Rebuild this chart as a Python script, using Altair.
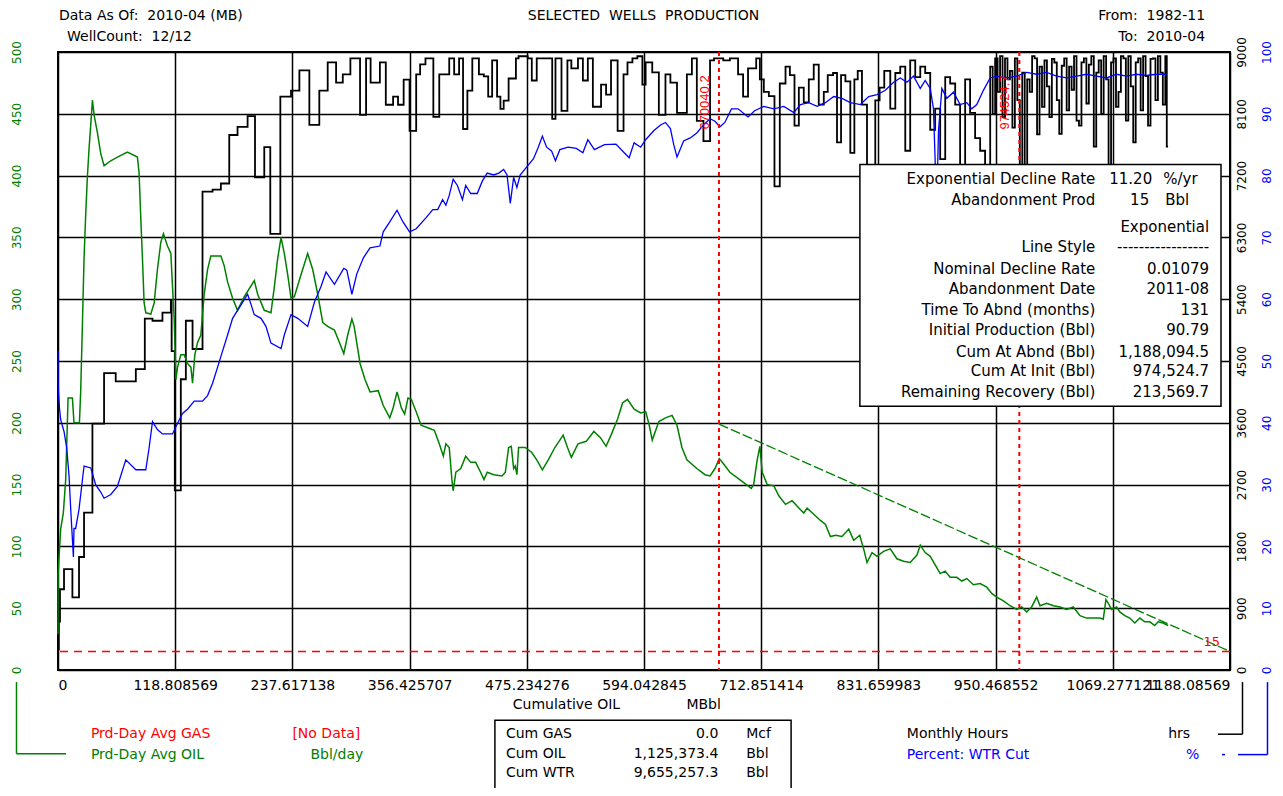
import altair as alt
import pandas as pd

FONT = "DejaVu Sans"
GREEN = "#008000"
BLUE = "#0000ff"
RED = "#ff0000"

# ---------------- data ----------------
X_MAX = 1188.08569
X_TICKS = [0, 118.808569, 237.617138, 356.425707, 475.234276, 594.042845,
           712.851414, 831.659983, 950.468552, 1069.277121, 1188.08569]
OIL_TICKS = [0, 50, 100, 150, 200, 250, 300, 350, 400, 450, 500]
HRS_TICKS = [0, 900, 1800, 2700, 3600, 4500, 5400, 6300, 7200, 8100, 9000]
PCT_TICKS = [0, 10, 20, 30, 40, 50, 60, 70, 80, 90, 100]

# (cumulative oil MBbl, Prd-Day Avg OIL bbl/day)
OIL = [
    (0.0, 29), (0.1, 78), (2.7, 114), (5.4, 127), (7.8, 154), (9.5, 200), (10.2, 220), (14.6, 220),
    (16.2, 200), (21.7, 200), (23.0, 225), (24.7, 278), (26.4, 333), (28.1, 369), (29.8, 399),
    (31.5, 422), (33.2, 441), (34.9, 461), (36.6, 449), (39.9, 435), (43.3, 418), (46.7, 408),
    (53.5, 412), (60.2, 415), (70.4, 419), (80.5, 415), (82.2, 402), (83.9, 366), (85.6, 333),
    (87.3, 297), (89.0, 289), (94.1, 288), (97.5, 297), (100.8, 324), (104.2, 346), (106.9, 353),
    (111.0, 343), (114.4, 337), (116.1, 310), (117.8, 284), (119.5, 235), (121.2, 245), (124.5, 255),
    (127.9, 255), (131.3, 248), (134.7, 245), (136.4, 232), (138.7, 255), (141.5, 265), (144.8, 271),
    (148.2, 304), (151.6, 324), (154.9, 335), (165.1, 335), (168.5, 327), (171.9, 314), (176.9, 301),
    (182.0, 291), (188.8, 302), (199.0, 315), (202.4, 304), (209.1, 291), (215.9, 289), (219.3, 310),
    (222.7, 333), (226.1, 350), (229.4, 337), (232.8, 320), (236.2, 301), (239.6, 302), (246.4, 320),
    (253.1, 337), (258.2, 324), (263.3, 304), (268.4, 281), (273.4, 278), (280.2, 275), (285.3, 265),
    (289.7, 256), (293.7, 271), (297.9, 284), (300.2, 278), (306.2, 248), (311.2, 235), (316.3, 225),
    (324.6, 226), (329.7, 214), (336.3, 204), (339.7, 212), (343.7, 225), (348.1, 212), (351.4, 207),
    (354.8, 220), (358.1, 219), (363.1, 209), (368.1, 198), (374.8, 196), (381.5, 194), (386.5, 183),
    (390.6, 173), (393.2, 183), (396.6, 180), (399.3, 154), (400.6, 145), (403.3, 160), (408.3, 163),
    (413.3, 173), (418.4, 168), (423.4, 168), (428.4, 160), (431.8, 154), (435.1, 160), (441.8, 158),
    (450.1, 157), (453.5, 160), (456.8, 180), (459.5, 181), (461.9, 163), (463.5, 165), (465.2, 158),
    (466.9, 180), (473.6, 180), (480.3, 176), (485.3, 170), (491.0, 162), (497.0, 170), (503.7, 180),
    (512.1, 190), (516.5, 180), (520.4, 172), (527.1, 183), (535.5, 185), (543.2, 193), (549.9, 188),
    (555.6, 181), (560.6, 190), (567.3, 203), (572.3, 216), (577.3, 219), (584.0, 211), (590.7, 208),
    (595.7, 209), (599.1, 199), (602.4, 186), (609.1, 201), (615.8, 204), (622.5, 206), (627.5, 198),
    (632.5, 180), (637.5, 170), (647.6, 163), (655.9, 158), (661.0, 157), (666.0, 163), (670.3, 171),
    (674.4, 167), (681.1, 160), (691.1, 154), (702.8, 147), (705.2, 150), (708.8, 170), (711.5, 181),
    (713.9, 160), (718.9, 150), (725.7, 149), (730.7, 141), (737.5, 134), (744.2, 137), (751.0, 131),
    (756.0, 127), (759.4, 131), (766.1, 126), (772.9, 121), (777.9, 118), (783.0, 108), (788.1, 109),
    (794.8, 108), (801.6, 114), (806.6, 105), (812.7, 109), (816.7, 98), (820.1, 87), (825.2, 95),
    (830.2, 92), (836.9, 96), (843.7, 98), (850.4, 90), (857.2, 88), (863.9, 87), (870.7, 93),
    (874.1, 101), (879.1, 95), (884.2, 92), (889.2, 85), (894.3, 78), (899.3, 80), (904.4, 75),
    (911.1, 75), (916.2, 72), (921.3, 74), (928.0, 69), (934.8, 70), (941.5, 67), (946.6, 62),
    (951.6, 59), (958.4, 56), (965.1, 52), (971.9, 49), (976.9, 51), (982.0, 47), (987.0, 51),
    (992.1, 59), (995.5, 52), (1002.2, 54), (1009.0, 52), (1015.7, 51), (1022.5, 49), (1029.2, 51),
    (1036.0, 44), (1042.7, 42), (1049.5, 42), (1056.2, 42), (1059.6, 41), (1062.3, 57), (1064.7, 54),
    (1068.0, 49), (1073.1, 51), (1076.4, 47), (1081.5, 44), (1086.5, 42), (1091.6, 38), (1096.7, 42),
    (1101.7, 39), (1106.8, 39), (1111.8, 36), (1115.2, 39), (1120.3, 38), (1125.3, 36),
]

# (cumulative oil MBbl, Percent WTR Cut %)
WTR_CUT = [
    (0.0, 51.6), (0.0, 47.5), (0.5, 45.0), (1.5, 42.4), (2.7, 40.5), (6.1, 38.6), (8.8, 36.0),
    (11.2, 31.4), (12.9, 26.0), (15.6, 18.3), (16.2, 22.9), (17.9, 22.9), (21.3, 26.0), (24.7, 30.7),
    (26.4, 33.0), (33.2, 32.7), (38.2, 30.0), (43.3, 28.8), (46.7, 27.8), (53.5, 28.4), (60.2, 29.7),
    (68.7, 34.0), (78.9, 32.4), (89.0, 32.4), (92.4, 36.0), (95.8, 40.2), (100.8, 38.9), (105.9, 38.2),
    (116.1, 38.2), (121.1, 39.9), (126.2, 41.5), (131.3, 42.2), (138.1, 43.5), (146.5, 43.5),
    (151.6, 44.4), (156.7, 46.4), (161.8, 49.0), (166.8, 51.6), (171.9, 54.2), (177.0, 56.9),
    (182.0, 58.2), (187.1, 59.5), (192.2, 60.8), (195.6, 59.2), (198.9, 57.5), (205.8, 56.9),
    (210.8, 55.6), (215.9, 52.9), (226.1, 52.0), (229.4, 54.2), (236.2, 57.5), (243.0, 56.9),
    (253.1, 55.6), (259.9, 59.5), (266.7, 62.1), (271.7, 64.4), (280.2, 62.4), (289.7, 65.0),
    (292.8, 64.7), (297.9, 60.8), (302.9, 64.1), (309.6, 66.7), (316.3, 68.3), (326.3, 68.6),
    (329.7, 70.9), (336.3, 72.5), (343.7, 74.4), (349.7, 72.5), (356.4, 70.9), (363.1, 71.4),
    (373.2, 73.2), (379.9, 74.5), (384.9, 74.5), (389.9, 76.1), (393.2, 75.2), (396.6, 76.8),
    (400.6, 79.4), (404.9, 78.4), (410.0, 76.1), (413.3, 78.4), (418.4, 77.1), (425.0, 77.1),
    (430.1, 79.1), (435.1, 80.4), (441.8, 80.1), (446.8, 80.4), (451.8, 81.0), (455.2, 80.1),
    (458.5, 75.5), (461.9, 79.7), (465.2, 78.1), (468.5, 80.1), (475.2, 81.4), (481.9, 82.7),
    (486.9, 84.6), (491.0, 86.4), (495.3, 84.6), (500.3, 84.0), (504.3, 82.4), (508.7, 84.2),
    (517.1, 84.6), (525.4, 84.4), (532.1, 83.7), (537.1, 85.8), (543.8, 84.2), (553.9, 85.0),
    (565.6, 85.1), (574.0, 83.7), (579.0, 82.9), (584.0, 85.3), (590.7, 84.6), (595.7, 85.8),
    (604.1, 87.3), (610.8, 88.2), (615.8, 88.6), (620.8, 87.6), (624.2, 85.0), (627.5, 83.0),
    (634.2, 85.6), (640.9, 86.1), (647.6, 86.9), (654.3, 88.2), (661.0, 89.2), (666.0, 88.8),
    (671.0, 87.9), (676.0, 88.6), (682.7, 90.8), (689.4, 90.8), (699.5, 89.5), (706.2, 90.5),
    (715.5, 91.2), (725.7, 90.8), (735.8, 91.2), (745.9, 90.2), (752.6, 91.5), (761.1, 91.8),
    (769.5, 91.2), (777.9, 91.8), (786.4, 92.8), (794.8, 92.5), (803.2, 91.8), (813.4, 91.5),
    (821.8, 92.8), (830.2, 93.1), (838.7, 93.8), (847.1, 95.1), (853.8, 95.8), (860.6, 95.1),
    (867.3, 96.1), (874.1, 94.1), (879.1, 95.4), (884.2, 94.1), (887.5, 90.8), (889.2, 82.4),
    (890.5, 72.0), (891.5, 80.0), (892.6, 87.3), (896.0, 94.1), (901.0, 92.5), (907.8, 93.5),
    (914.5, 91.5), (921.3, 91.8), (926.3, 90.8), (931.4, 91.5), (938.1, 93.8), (944.9, 95.8),
    (951.6, 96.1), (961.7, 95.8), (971.9, 96.1), (982.0, 96.7), (992.1, 96.4), (1002.2, 96.7),
    (1012.3, 96.1), (1022.5, 95.8), (1032.6, 96.1), (1042.7, 96.4), (1052.8, 96.1), (1062.9, 95.8),
    (1073.1, 96.4), (1083.2, 96.1), (1093.3, 96.4), (1103.4, 96.2), (1113.5, 96.4), (1123.6, 96.4),
]

# (cumulative oil MBbl, Monthly Hours) -- step series
HOURS = [
    (0.0, 300), (0.8, 706), (2.0, 1176), (6.1, 1470), (14.6, 1058), (21.3, 1646), (26.4, 2293),
    (34.9, 3587), (46.7, 4322), (58.5, 4204), (78.9, 4381), (88.0, 5116), (95.8, 5086), (105.9, 5204),
    (114.4, 5380), (115.2, 4645), (118.4, 2617), (124.5, 4234), (129.6, 5086), (136.4, 4675),
    (146.5, 6968), (156.7, 6997), (165.1, 7085), (173.6, 7791), (182.0, 7909), (192.2, 8067),
    (199.7, 7174), (209.1, 7615), (215.2, 6350), (225.4, 8350), (236.2, 8438), (244.7, 8732),
    (254.8, 7938), (264.9, 8438), (273.4, 8850), (281.9, 8555), (288.7, 8673), (296.4, 8908),
    (306.2, 8085), (312.3, 8908), (316.9, 8555), (326.3, 8849), (332.3, 8232), (339.7, 8350),
    (344.7, 8232), (350.4, 8597), (356.4, 7850), (363.1, 8673), (367.1, 8820), (372.5, 8908),
    (380.5, 8056), (386.5, 8673), (396.6, 8908), (401.6, 8673), (406.6, 8908), (410.6, 7879),
    (415.0, 8438), (420.0, 8908), (426.7, 8673), (431.7, 8644), (436.1, 8350), (440.1, 8879),
    (445.1, 8350), (448.5, 8173), (451.8, 8291), (456.8, 8614), (464.2, 8908), (466.9, 8938),
    (476.2, 8908), (480.3, 8585), (485.3, 8908), (501.0, 8026), (504.3, 8908), (510.4, 8144),
    (516.4, 8879), (520.4, 8761), (527.1, 8908), (532.1, 8585), (537.1, 8908), (542.2, 8203),
    (550.5, 8526), (555.6, 8379), (560.6, 8879), (567.3, 7850), (573.3, 8673), (577.3, 8849),
    (582.3, 8908), (587.3, 8938), (592.4, 8526), (595.7, 8849), (602.4, 8702), (609.1, 8085),
    (615.8, 8673), (620.8, 8555), (627.5, 8114), (637.5, 8673), (642.6, 8908), (647.6, 7997),
    (654.3, 7703), (661.0, 8879), (665.0, 8908), (674.4, 8879), (681.1, 8908), (689.4, 8673),
    (694.5, 8350), (699.5, 8761), (707.8, 8908), (711.5, 8602), (715.5, 8419), (720.6, 8357),
    (726.3, 7042), (731.7, 8541), (737.5, 8786), (741.9, 8663), (746.6, 7929), (751.0, 8480),
    (756.0, 8266), (761.1, 8602), (766.1, 8816), (771.2, 8235), (776.3, 8419), (780.3, 8663),
    (785.7, 8694), (789.7, 7684), (793.8, 8663), (798.2, 8572), (803.2, 7531), (807.3, 8602),
    (810.7, 8725), (815.0, 8235), (820.1, 7317), (824.1, 7133), (828.5, 8296), (832.9, 8480),
    (837.6, 8725), (843.7, 8174), (848.8, 8694), (853.8, 8786), (858.9, 7562), (863.9, 8878),
    (869.0, 8633), (874.1, 8786), (879.1, 8694), (884.2, 7868), (889.2, 8174), (894.3, 7439),
    (899.4, 8633), (904.4, 8541), (909.5, 8235), (914.5, 7317), (919.6, 8602), (924.6, 8113),
    (929.7, 7745), (934.8, 7562), (939.8, 7133), (945.0, 8786), (947.5, 8100), (950.0, 8908),
    (952.5, 8420), (955.0, 8939), (957.5, 8050), (960.0, 8908), (962.5, 8600), (965.0, 8725),
    (967.5, 7900), (970.0, 8908), (972.5, 8300), (975.0, 7317), (977.5, 8700), (980.0, 7133),
    (982.5, 8600), (985.0, 8419), (987.5, 8939), (990.0, 8908), (992.5, 7800), (995.0, 8786),
    (997.5, 8200), (1000.0, 8878), (1002.5, 8500), (1005.0, 8051), (1007.5, 8900), (1010.0, 8847),
    (1012.5, 8300), (1015.0, 7807), (1017.5, 8800), (1020.0, 8908), (1022.5, 8150), (1025.0, 8786),
    (1027.5, 8450), (1030.0, 8939), (1032.5, 8000), (1035.0, 7929), (1037.5, 8850), (1040.0, 8908),
    (1042.5, 8250), (1045.0, 8816), (1047.5, 8939), (1050.0, 7623), (1052.5, 8700), (1055.0, 8878),
    (1057.5, 8100), (1060.0, 8939), (1062.5, 8600), (1065.0, 7317), (1067.5, 8850), (1070.0, 8908),
    (1072.5, 8200), (1075.0, 8419), (1077.5, 8939), (1080.0, 8908), (1082.5, 8000), (1085.0, 8939),
    (1087.5, 8500), (1090.0, 7684), (1092.5, 8850), (1095.0, 8908), (1097.5, 8150), (1100.0, 8939),
    (1102.5, 8650), (1105.0, 7929), (1107.5, 8900), (1110.0, 8908), (1112.5, 8300), (1115.0, 8939),
    (1117.5, 8700), (1120.0, 8235), (1122.5, 8939), (1124.0, 7623), (1125.3, 7623),
]

FORECAST = [(670.04, 199.0), (1188.08569, 15.0)]
ABANDON_RATE = [15]
MARKER_CUM = [670.0402, 974.5247]
MARKER_LABEL = ["670040.2", "974524.7"]

INFO_LABELS = ["Exponential Decline Rate", "Abandonment Prod", "", "Line Style",
               "Nominal Decline Rate", "Abandonment Date", "Time To Abnd (months)",
               "Initial Production (Bbl)", "Cum At Abnd (Bbl)", "Cum At Init (Bbl)",
               "Remaining Recovery (Bbl)"]
INFO_VALUES = ["", "", "Exponential", "-----------------", "0.01079", "2011-08", "131",
               "90.79", "1,188,094.5", "974,524.7", "213,569.7"]
CUM_NAMES = ["Cum GAS", "Cum OIL", "Cum WTR"]
CUM_VALUES = ["0.0", "1,125,373.4", "9,655,257.3"]
CUM_UNITS = ["Mcf", "Bbl", "Bbl"]

# ---------------- layout helpers ----------------
W, H = 1172, 618


def rx(x):
    return round((x - 62) * W / 1175, 1)


def ry(y):
    return round((y - 52) * H / 621, 1)


def rb(y):
    return round(H + (y - 673) * 0.93, 1)


ONE = pd.DataFrame({"k": [0]})


def txt(text, x, y, color="black", align="left", size=14, font=FONT, baseline="middle"):
    return alt.Chart(ONE).mark_text(text=text, align=align, baseline=baseline, color=color,
                                    fontSize=size, font=font).encode(
        x=alt.value(x), y=alt.value(y))


def seg(x1, y1, x2, y2, color, width=1.5):
    return alt.Chart(ONE).mark_rule(color=color, strokeWidth=width).encode(
        x=alt.value(x1), y=alt.value(y1), x2=alt.value(x2), y2=alt.value(y2))


def frame(pairs, name):
    df = pd.DataFrame(pairs, columns=["cum", name])
    df["i"] = range(len(df))
    return df


xs = alt.Scale(domain=[0, X_MAX], nice=False, zero=False)
left_scale = alt.Scale(domain=[0, 500], nice=False, zero=True)

x_axis = alt.Axis(values=X_TICKS, labelExpr="datum.value", grid=True, gridColor="black",
                  gridWidth=1.5, gridOpacity=1, domain=False, ticks=False, tickSize=0,
                  labelFont=FONT, labelFontSize=14, labelColor="black", labelPadding=8,
                  labelBaseline="top", labelOverlap=False, labelFlush=True, title=None)
oil_axis = alt.Axis(orient="left", values=OIL_TICKS, grid=True, gridColor="black", gridWidth=1.5,
                    gridOpacity=1, domain=False, ticks=False, tickSize=0, labelAngle=270,
                    labelAlign="center", labelBaseline="bottom", labelPadding=35,
                    labelColor=GREEN, labelFont=FONT, labelFontSize=12, labelOverlap=False,
                    format="d", title=None)
hrs_axis = alt.Axis(orient="right", values=HRS_TICKS, grid=False, domain=False, ticks=False,
                    tickSize=0, labelAngle=270, labelAlign="center", labelBaseline="top",
                    labelPadding=6, labelColor="black", labelFont=FONT, labelFontSize=12,
                    labelOverlap=False, format="d", title=None)
pct_axis = alt.Axis(orient="right", offset=25, values=PCT_TICKS, grid=False, domain=False,
                    ticks=False, tickSize=0, labelAngle=270, labelAlign="center",
                    labelBaseline="top", labelPadding=6, labelColor=BLUE, labelFont=FONT,
                    labelFontSize=12, labelOverlap=False, format="d", title=None)

hrs_line = alt.Chart(frame(HOURS, "hrs")).mark_line(
    interpolate="step-after", color="black", strokeWidth=1.8).encode(
    x=alt.X("cum:Q", scale=xs, axis=x_axis),
    y=alt.Y("hrs:Q", scale=alt.Scale(domain=[0, 9000], nice=False, zero=True), axis=hrs_axis),
    order=alt.Order("i:Q"))

oil_line = alt.Chart(frame(OIL, "oil")).mark_line(color=GREEN, strokeWidth=1.5).encode(
    x=alt.X("cum:Q", scale=xs, axis=None),
    y=alt.Y("oil:Q", scale=left_scale, axis=oil_axis),
    order=alt.Order("i:Q"))

fc_line = alt.Chart(frame(FORECAST, "fc")).mark_line(
    color=GREEN, strokeWidth=1.3, strokeDash=[10, 3]).encode(
    x=alt.X("cum:Q", scale=xs, axis=None),
    y=alt.Y("fc:Q", scale=left_scale, axis=None),
    order=alt.Order("i:Q"))

wc_line = alt.Chart(frame(WTR_CUT, "wc")).mark_line(color=BLUE, strokeWidth=1.3).encode(
    x=alt.X("cum:Q", scale=xs, axis=None),
    y=alt.Y("wc:Q", scale=alt.Scale(domain=[0, 100], nice=False, zero=True), axis=pct_axis),
    order=alt.Order("i:Q"))

aband_rule = alt.Chart(pd.DataFrame({"rate": ABANDON_RATE})).mark_rule(
    color=RED, strokeWidth=1.5, strokeDash=[8, 6]).encode(
    y=alt.Y("rate:Q", scale=left_scale, axis=None))

mk_df = pd.DataFrame({"cum": MARKER_CUM, "lab": MARKER_LABEL})
mk_rule = alt.Chart(mk_df).mark_rule(color=RED, strokeWidth=2, strokeDash=[4, 4]).encode(
    x=alt.X("cum:Q", scale=xs, axis=None))
mk_text = alt.Chart(mk_df).mark_text(
    angle=270, align="left", baseline="bottom", dy=-7, color=RED, fontSize=13,
    font="Liberation Sans").encode(
    x=alt.X("cum:Q", scale=xs, axis=None), y=alt.value(ry(130)), text="lab:N")

layers = [hrs_line, oil_line, fc_line, wc_line, aband_rule, mk_rule, mk_text,
          txt(str(ABANDON_RATE[0]), rx(1227), ry(645), RED, "right", 13)]

# info box
layers.append(alt.Chart(ONE).mark_rect(fill="white", stroke="black", strokeWidth=1.5).encode(
    x=alt.value(rx(866)), x2=alt.value(rx(1228)), y=alt.value(ry(165)), y2=alt.value(ry(408))))
row_y = [180, 201, 228, 248, 270, 290, 311, 331, 353, 373, 394]
for lab, val, yy in zip(INFO_LABELS, INFO_VALUES, row_y):
    if lab:
        layers.append(txt(lab, rx(1102), ry(yy), align="right", size=15))
    if val:
        layers.append(txt(val, rx(1216), ry(yy), align="right", size=15))
layers += [
    txt("11.20", rx(1159), ry(180), align="right", size=15),
    txt("%/yr", rx(1170), ry(180), size=15),
    txt("15", rx(1156), ry(201), align="right", size=15),
    txt("Bbl", rx(1172), ry(201), size=15),
]

# header
layers += [
    txt("Data As Of:\u00a0 2010-04 (MB)", rx(63), ry(16)),
    txt("WellCount:\u00a0 12/12", rx(71), ry(37)),
    txt("SELECTED\u00a0 WELLS\u00a0 PRODUCTION", rx(649), ry(16), align="center"),
    txt("From:\u00a0 1982-11", rx(1212), ry(16), align="right"),
    txt("To:\u00a0 2010-04", rx(1212), ry(37), align="right"),
]

# footer
layers += [
    txt("Cumulative OIL", rx(518), rb(711)),
    txt("MBbl", rx(692), rb(711)),
    txt("Prd-Day Avg GAS", rx(95), rb(742), RED),
    txt("[No Data]", rx(297), rb(742), RED),
    txt("Prd-Day Avg OIL", rx(95), rb(764), GREEN),
    txt("Bbl/day", rx(315), rb(764), GREEN),
    txt("Monthly Hours", rx(913), rb(742)),
    txt("hrs", rx(1175), rb(742)),
    txt("Percent: WTR Cut", rx(913), rb(764), BLUE),
    txt("%", rx(1193), rb(764), BLUE),
]
layers.append(alt.Chart(ONE).mark_rect(fill="white", stroke="black", strokeWidth=1.5).encode(
    x=alt.value(rx(500)), x2=alt.value(rx(797)), y=alt.value(rb(727)), y2=alt.value(rb(806))))
for name, val, unit, yy in zip(CUM_NAMES, CUM_VALUES, CUM_UNITS, [742, 763, 784]):
    layers += [txt(name, rx(511), rb(yy)), txt(val, rx(724), rb(yy), align="right"),
               txt(unit, rx(752), rb(yy))]

# legend brackets
gx = -41.5
bx = W + 12.5
ux = W + 37.5
layers += [
    seg(gx, rb(686), gx, rb(763), GREEN), seg(gx, rb(763), rx(70), rb(763), GREEN),
    seg(bx, rb(686), bx, rb(742), "black"), seg(rx(1225), rb(742), bx, rb(742), "black"),
    seg(ux, rb(686), ux, rb(764), BLUE), seg(rx(1245), rb(764), ux, rb(764), BLUE),
    seg(rx(1229), rb(764), rx(1232), rb(764), BLUE),
]

chart = alt.layer(*layers).resolve_scale(y="independent").resolve_axis(
    x="independent", y="independent").properties(
    width=W, height=H,
    padding={"left": 50, "top": 44, "right": 45, "bottom": 118},
    autosize=alt.AutoSizeParams(type="none"),
    background="white",
).configure_view(stroke="black", strokeWidth=2)

chart.save("out.html", embed_options={"renderer": "svg", "actions": False})
